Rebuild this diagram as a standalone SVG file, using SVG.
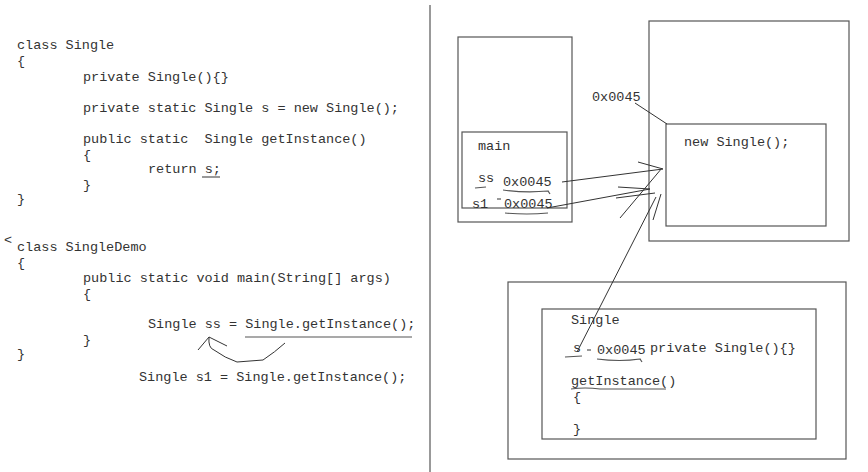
<svg xmlns="http://www.w3.org/2000/svg" width="868" height="472" viewBox="0 0 868 472">
<style>
text{font-family:"Liberation Mono","DejaVu Sans Mono",monospace;font-size:13.5px;fill:#333;white-space:pre}
.box{fill:none;stroke:#555;stroke-width:1.2}
.ink{fill:none;stroke:#333;stroke-width:1}
.ul{fill:none;stroke:#555;stroke-width:1.2}
</style>
<rect width="868" height="472" fill="#fff"/>
<line x1="430" y1="5" x2="430" y2="472" stroke="#555" stroke-width="1.2"/>
<g id="code-single">
<text x="17" y="49">class Single</text>
<text x="17" y="65">{</text>
<text x="83" y="81">private Single(){}</text>
<text x="83" y="112">private static Single s = new Single();</text>
<text x="83" y="143" xml:space="preserve">public static  Single getInstance()</text>
<text x="83" y="159">{</text>
<text x="148" y="173">return s;</text>
<line class="ul" x1="202" y1="177" x2="220" y2="177"/>
<text x="83" y="189">}</text>
<text x="17" y="203">}</text>
</g>
<g id="code-demo">
<text x="4" y="244">&lt;</text>
<text x="17" y="251">class SingleDemo</text>
<text x="17" y="267">{</text>
<text x="83" y="282">public static void main(String[] args)</text>
<text x="83" y="298">{</text>
<text x="148" y="328">Single ss = Single.getInstance();</text>
<line class="ul" x1="245" y1="337" x2="412" y2="337"/>
<text x="83" y="344">}</text>
<text x="17" y="358">}</text>
<text x="139" y="381">Single s1 = Single.getInstance();</text>
</g>
<g id="stack">
<rect class="box" x="458" y="37" width="114" height="185"/>
<rect class="box" x="462" y="132" width="105" height="76"/>
<text x="478" y="150">main</text>
<text x="478" y="182">ss</text>
<path class="ul" d="M475 188 L486 187"/>
<text x="503" y="186">0x0045</text>
<path class="ul" d="M503 190 Q525 193 548 191 L550 194"/>
<text x="472" y="208">s1</text>
<path class="ul" d="M497 199 L501 199"/>
<text x="504" y="208">0x0045</text>
<path class="ul" d="M505 213 Q527 215 548 213"/>
</g>
<g id="heap">
<rect class="box" x="649" y="21" width="200" height="220"/>
<rect class="box" x="666" y="124" width="160" height="102"/>
<text x="684" y="146">new Single();</text>
<text x="592" y="101">0x0045</text>
</g>
<g id="method-area">
<rect class="box" x="508" y="282" width="338" height="177"/>
<rect class="box" x="542" y="309" width="274" height="130"/>
<text x="571" y="324">Single</text>
<text x="573" y="352">s</text>
<path class="ul" d="M565 357 L582 356"/>
<path class="ul" d="M587 350 L591 350"/>
<text x="597" y="354">0x0045</text>
<path class="ul" d="M597 359 Q620 362 640 359 L642 362"/>
<text x="650" y="352">private Single(){}</text>
<text x="571" y="385">getInstance()</text>
<path class="ul" d="M571 389 Q585 387 600 389 L666 389"/>
<text x="573" y="401">{</text>
<text x="573" y="433">}</text>
</g>
<g id="connectors">
<line class="ink" x1="635" y1="103" x2="667" y2="124"/>
<line class="ink" x1="562" y1="182" x2="663" y2="169"/>
<line class="ink" x1="638" y1="162" x2="663" y2="169"/>
<line class="ink" x1="547" y1="208" x2="650" y2="189"/>
<line class="ink" x1="618" y1="187" x2="650" y2="189"/>
<line class="ink" x1="616" y1="198" x2="655" y2="193"/>
<line class="ink" x1="620" y1="218" x2="662" y2="168"/>
<line class="ink" x1="653" y1="220" x2="661" y2="194"/>
<line class="ink" x1="577" y1="352" x2="656" y2="197"/>
<line class="ink" x1="209" y1="337" x2="198" y2="350"/>
<line class="ink" x1="209" y1="337" x2="227" y2="346"/>
<path class="ink" d="M209 337 Q208 348 214 350 Q225 358 237 362 L263 360 Q275 352 285 343"/>
</g>
</svg>
